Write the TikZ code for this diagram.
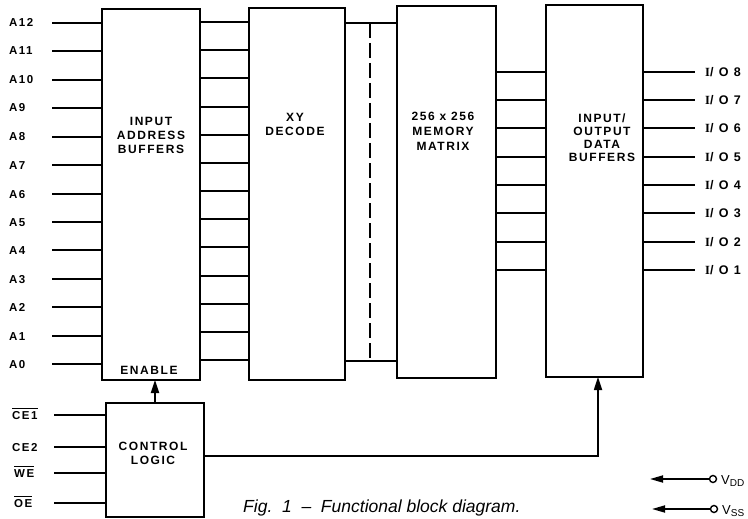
\documentclass[tikz,border=0pt]{standalone}
\usepackage{fontspec}
\setmainfont{Liberation Sans}
\newfontfamily\lbl[LetterSpace=13]{Liberation Sans}
\newfontfamily\iof[LetterSpace=42]{Liberation Sans}
\newfontfamily\serifI[LetterSpace=42]{Liberation Serif}
\usetikzlibrary{arrows.meta}
\newcommand\ovl[1]{\vbox{\hrule height 1.4pt\kern1.6pt\hbox{#1}}}
\begin{document}
\begin{tikzpicture}[x=1pt,y=-1pt,
  wire/.style={line width=1.7pt},
  blk/.style={draw, line width=1.7pt, inner sep=0pt, outer sep=0pt},
  blktext/.style={align=center, inner sep=0pt, font=\lbl\bfseries\fontsize{12}{14}\selectfont},
  pin/.style={anchor=base west, inner sep=0pt, font=\lbl\bfseries\fontsize{11.5}{12}\selectfont},
  iopin/.style={anchor=base west, inner sep=0pt, font=\iof\bfseries\fontsize{12.5}{12}\selectfont},
  tip/.style={-{Triangle[width=8pt,length=13pt]}}
]
\useasboundingbox (0,0) rectangle (748,519);
\clip (0,0) rectangle (748,519);

% blocks
\node[blk, minimum width=98pt, minimum height=371pt] (iab) at (151,194.5) {};
\node[blk, minimum width=96pt, minimum height=372pt] (xy) at (297,194) {};
\node[blk, minimum width=99pt, minimum height=372pt] (mem) at (446.5,192) {};
\node[blk, minimum width=97pt, minimum height=372pt] (io) at (594.5,191) {};
\node[blk, minimum width=98pt, minimum height=114pt] (ctl) at (155,460) {};

% block texts
\node[blktext] (tiab) at (151,135) {INPUT\\ADDRESS\\BUFFERS};
\node[blktext] (ten) at (149,370) {ENABLE};
\node[blktext] (txy) at (295,124) {XY\\DECODE};
\node[blktext, font=\lbl\bfseries\fontsize{12}{15}\selectfont] (tmem) at (443,131) {256 x 256\\MEMORY\\MATRIX};
\node[blktext, font=\lbl\bfseries\fontsize{12}{13}\selectfont] (tio) at (602,137.5) {INPUT/\\OUTPUT\\DATA\\BUFFERS};
\node[blktext] (tctl) at (153,453) {CONTROL\\LOGIC};

% address lines
\foreach \n [count=\i from 0] in {12,11,10,9,8,7,6,5,4,3,2,1,0}{
  \pgfmathsetmacro\yi{round(23+28.42*\i)}
  \pgfmathsetmacro\yo{round(22+28.17*\i)}
  \node[pin] (lA\n) at (9,\yi+4) {A\n};
  \coordinate (sA\n) at (52,\yi);
  \draw[wire] (sA\n) -- (sA\n -| iab.west);
  \coordinate (oA\n) at (0,\yo);
  \draw[wire] (oA\n -| iab.east) -- (oA\n -| xy.west);
}

% decode to memory
\coordinate (dt) at (370,23);
\coordinate (db) at (370,361);
\draw[wire] (dt -| xy.east) -- (dt -| mem.west);
\draw[wire] (db -| xy.east) -- (db -| mem.west);
\draw[wire, dash pattern=on 15pt off 5pt] (dt) -- (db);

% memory to io, io outputs
\foreach \k [count=\i from 0] in {8,7,6,5,4,3,2,1}{
  \pgfmathsetmacro\y{round(71.5+28.35*\i)}
  \coordinate (m\k) at (0,\y);
  \draw[wire] (m\k -| mem.east) -- (m\k -| io.west);
  \coordinate (e\k) at (695,\y);
  \draw[wire] (m\k -| io.east) -- (e\k);
  \node[iopin] (lio\k) at (705,\y+4.5) {{\serifI\bfseries I}/O\k};
}

% control inputs
\node[pin] (lce1) at (12,419) {\ovl{CE1}};
\node[pin] (lce2) at (12,451) {CE2};
\node[pin] (lwe) at (14,477) {\ovl{WE}};
\node[pin] (loe) at (14,507) {\ovl{OE}};
\foreach \nm/\y in {ce1/415,ce2/447,we/473,oe/503}{
  \coordinate (s\nm) at (54,\y);
  \draw[wire] (s\nm) -- (s\nm -| ctl.west);
}

% enable arrow
\draw[wire, tip] (ctl.north) -- (ctl.north |- iab.south);

% control to io
\coordinate (bend) at (598,456);
\draw[wire, tip] (ctl.east |- bend) -- (bend) -- (bend |- io.south);

% power
\node[circle, draw, line width=1.4pt, minimum size=7pt, inner sep=0pt] (cdd) at (713,479) {};
\coordinate (tdd) at (650,479);
\draw[wire, -{Triangle[width=7pt,length=13pt]}] (cdd.west) -- (tdd);
\node[anchor=base west, inner sep=0pt, font=\fontsize{13}{14}\selectfont] (ldd) at (721,484) {V\textsubscript{\fontsize{10}{10}\selectfont DD}};
\node[circle, draw, line width=1.4pt, minimum size=7pt, inner sep=0pt] (css) at (714,509) {};
\coordinate (tss) at (652,509);
\draw[wire, -{Triangle[width=7pt,length=13pt]}] (css.west) -- (tss);
\node[anchor=base west, inner sep=0pt, font=\fontsize{13}{14}\selectfont] (lss) at (722,514) {V\textsubscript{\fontsize{10}{10}\selectfont SS}};

% caption
\node[anchor=base west, inner sep=0pt, font=\itshape\fontsize{17.5}{20}\selectfont] (cap) at (243,512) {Fig.\ \ 1\ \ --\ \ Functional block diagram.};
\end{tikzpicture}
\end{document}
